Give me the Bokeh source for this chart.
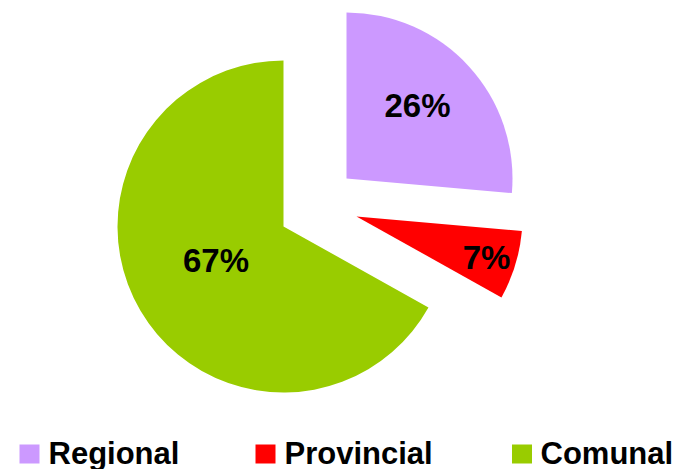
import numpy as np
from bokeh.plotting import figure
from bokeh.models import Range1d, ColumnDataSource
from bokeh.core.properties import value
from bokeh.embed import file_html
from bokeh.resources import INLINE

# ---- data ----
categories = ["Regional", "Provincial", "Comunal"]
shares = [26.4, 6.7, 66.9]
colors = ["#CC99FF", "#FF0000", "#99CC00"]

# ---- layout constants (pixels, y up) ----
W, H = 681, 469
CX, CY = 283, 243
R = 166
explode_dx = [63, 73, 0]
explode_dy = [48, 10, 0]
label_x = [417, 486, 215.5]
label_y = [364, 212, 209]
legend_sq_x = [29, 265, 521.5]
legend_txt_x = [48, 284, 540]
legend_y = 15.5
legend_mid = 16.5

vals = np.array(shares, dtype=float)
frac = vals / vals.sum()
cum = np.concatenate([[0.0], np.cumsum(frac)])
start = np.pi / 2 - 2 * np.pi * cum[:-1]
end = np.pi / 2 - 2 * np.pi * cum[1:]

src = ColumnDataSource(dict(
    x=[CX + d for d in explode_dx],
    y=[CY + d for d in explode_dy],
    start=start, end=end, color=colors,
    lx=label_x, ly=label_y,
    label=[f"{round(v)}%" for v in shares],
))

p = figure(width=W, height=H, output_backend="svg", toolbar_location=None,
           x_range=Range1d(0, W), y_range=Range1d(0, H), min_border=0)
p.axis.visible = False
p.grid.visible = False
p.outline_line_color = None
p.background_fill_color = "white"
p.border_fill_color = "white"

p.wedge(x="x", y="y", radius=R, start_angle="start", end_angle="end",
        direction="clock", fill_color="color", line_color=None, source=src)

p.text(x="lx", y="ly", text="label", source=src, text_align="center",
       text_baseline="middle", text_font=value("Liberation Sans"),
       text_font_style="bold", text_font_size="33px", text_color="black")

leg = ColumnDataSource(dict(sx=legend_sq_x, sy=[legend_y] * 3, color=colors,
                            tx=legend_txt_x, ty=[legend_mid] * 3, name=categories))
p.rect(x="sx", y="sy", width=20, height=19, fill_color="color", line_color=None, source=leg)
p.text(x="tx", y="ty", text="name", source=leg, text_align="left",
       text_baseline="middle", text_font=value("Liberation Sans"),
       text_font_style="bold", text_font_size="31px", text_color="black")

open("out.html", "w").write(file_html(p, INLINE))
